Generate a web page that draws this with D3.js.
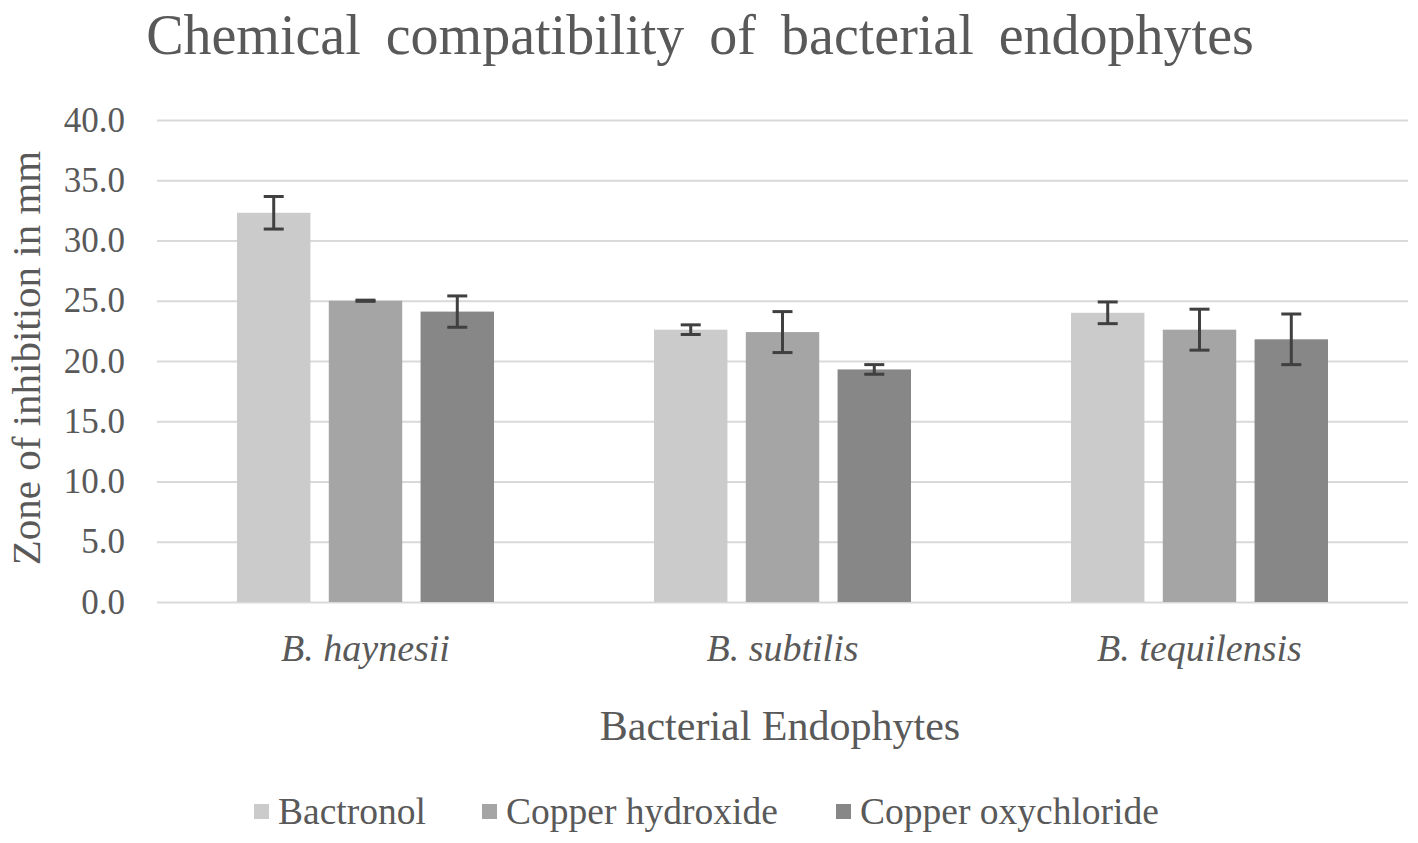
<!DOCTYPE html>
<html>
<head>
<meta charset="utf-8">
<script src="https://cdn.jsdelivr.net/npm/d3@7"></script>
<style>
  body { margin: 0; background: #fff; }
  text { font-family: "Liberation Serif", "Times New Roman", serif; fill: #595959; }
</style>
</head>
<body>
<script>
// data
var categories = ["B. haynesii", "B. subtilis", "B. tequilensis"];
var seriesNames = ["Bactronol", "Copper hydroxide", "Copper oxychloride"];
var bactronol = [32.3, 22.6, 24.0];
var copperHydroxide = [25.0, 22.4, 22.6];
var copperOxychloride = [24.1, 19.3, 21.8];
var bactronolErr = [1.35, 0.4, 0.9];
var copperHydroxideErr = [0.05, 1.7, 1.7];
var copperOxychlorideErr = [1.3, 0.4, 2.1];
var yTicks = [0, 5, 10, 15, 20, 25, 30, 35, 40];

var colors = ["#cbcbcb", "#a5a5a5", "#878787"];
var values = [bactronol, copperHydroxide, copperOxychloride];
var errs = [bactronolErr, copperHydroxideErr, copperOxychlorideErr];

var width = 1418, height = 843;
var plotLeft = 157, plotRight = 1408, plotTop = 120, plotBottom = 602;

var svg = d3.select("body").append("svg")
    .attr("width", width)
    .attr("height", height);

var y = d3.scaleLinear().domain([0, 40]).range([plotBottom, plotTop]);
var x0 = d3.scaleBand().domain(categories).range([plotLeft, plotRight]);
var x1 = d3.scaleBand().domain(seriesNames)
    .range([80, x0.bandwidth() - 80]).paddingInner(0.2);

// grid lines
svg.append("g").selectAll("line").data(yTicks).enter().append("line")
    .attr("x1", plotLeft).attr("x2", plotRight)
    .attr("y1", function(d) { return y(d) + 0.5; })
    .attr("y2", function(d) { return y(d) + 0.5; })
    .attr("stroke", "#d9d9d9").attr("stroke-width", 2);

// y axis labels
var yAxis = d3.axisLeft(y).tickValues(yTicks).tickFormat(d3.format(".1f")).tickSize(0).tickPadding(32);
var ga = svg.append("g").attr("transform", "translate(" + plotLeft + ",0)").call(yAxis);
ga.select(".domain").remove();
ga.selectAll("text").style("font-size", "35px").style("fill", "#595959")
    .style("font-family", "Liberation Serif");

// bars
var data = [];
categories.forEach(function(c, i) {
    seriesNames.forEach(function(s, j) {
        data.push({cat: c, ser: s, j: j, v: values[j][i], e: errs[j][i]});
    });
});

svg.append("g").selectAll("rect").data(data).enter().append("rect")
    .attr("x", function(d) { return x0(d.cat) + x1(d.ser); })
    .attr("y", function(d) { return y(d.v); })
    .attr("width", x1.bandwidth())
    .attr("height", function(d) { return y(0) - y(d.v); })
    .attr("fill", function(d) { return colors[d.j]; });

// error bars
var eb = svg.append("g").attr("stroke", "#404040").attr("stroke-width", 3);
data.forEach(function(d) {
    var cx = x0(d.cat) + x1(d.ser) + x1.bandwidth() / 2;
    eb.append("line").attr("x1", cx).attr("x2", cx)
        .attr("y1", y(d.v + d.e)).attr("y2", y(d.v - d.e));
    eb.append("line").attr("x1", cx - 10).attr("x2", cx + 10)
        .attr("y1", y(d.v + d.e)).attr("y2", y(d.v + d.e));
    eb.append("line").attr("x1", cx - 10).attr("x2", cx + 10)
        .attr("y1", y(d.v - d.e)).attr("y2", y(d.v - d.e));
});

// category labels
svg.append("g").selectAll("text").data(categories).enter().append("text")
    .attr("x", function(d) { return x0(d) + x0.bandwidth() / 2; })
    .attr("y", 661)
    .attr("text-anchor", "middle")
    .style("font-size", "38px").style("font-style", "italic")
    .text(function(d) { return d; });

// title
svg.append("text").attr("x", 700).attr("y", 54).attr("text-anchor", "middle")
    .style("font-size", "56px").style("word-spacing", "11px")
    .text("Chemical compatibility of bacterial endophytes");

// axis titles
svg.append("text").attr("x", 780).attr("y", 740).attr("text-anchor", "middle")
    .style("font-size", "42px")
    .text("Bacterial Endophytes");

svg.append("text")
    .attr("transform", "translate(40,358) rotate(-90)")
    .attr("text-anchor", "middle")
    .style("font-size", "41px")
    .text("Zone of inhibition in mm");

// legend
var legX = [254, 482, 836];
var leg = svg.append("g").selectAll("g").data(seriesNames).enter().append("g")
    .attr("transform", function(d, i) { return "translate(" + legX[i] + ",0)"; });
leg.append("rect").attr("x", 0).attr("y", 804).attr("width", 15).attr("height", 15)
    .attr("fill", function(d, i) { return colors[i]; });
leg.append("text").attr("x", 24).attr("y", 824)
    .style("font-size", "37.5px")
    .text(function(d) { return d; });
</script>
</body>
</html>
